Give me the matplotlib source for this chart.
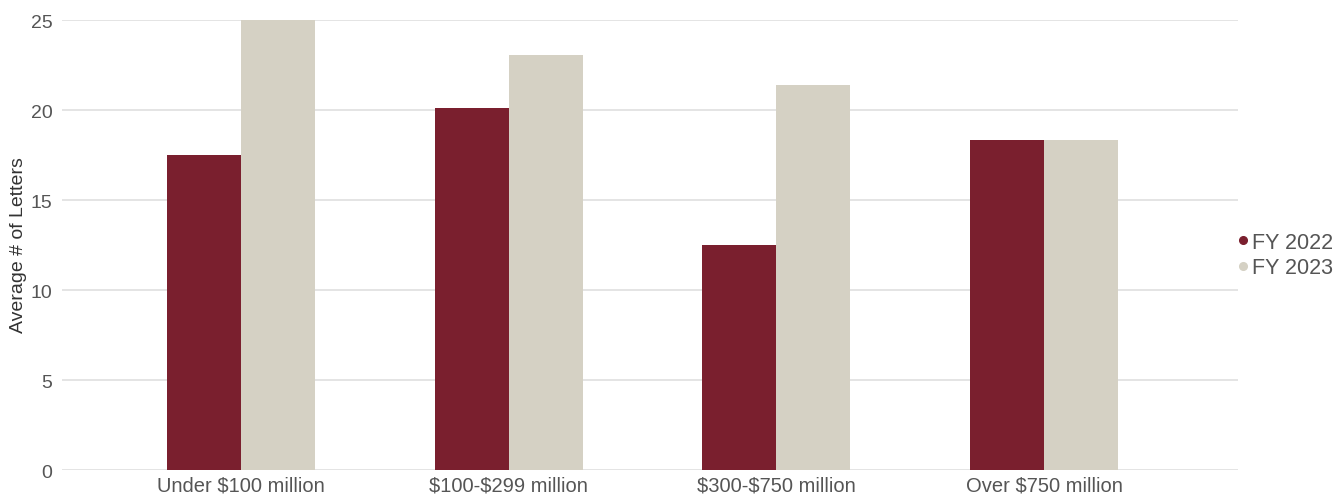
import matplotlib
matplotlib.use("Agg")
import matplotlib.pyplot as plt
from matplotlib.lines import Line2D
import numpy as np

categories = ["Under $100 million", "$100-$299 million", "$300-$750 million", "Over $750 million"]
fy2022 = [17.5, 20.1, 12.5, 18.35]
fy2023 = [25.0, 23.05, 21.4, 18.35]
series_names = ["FY 2022", "FY 2023"]
y_ticks = [0, 5, 10, 15, 20, 25]

RED = "#7a1f2e"
BEIGE = "#d5d1c4"
TEXT = "#555555"
GRID = "#e2e2e2"

plt.rcParams["font.family"] = ["Liberation Sans", "DejaVu Sans"]
plt.rcParams["text.parse_math"] = False

W, H = 1343, 502
fig = plt.figure(figsize=(W / 100, H / 100), dpi=100)
ax = fig.add_axes([62 / W, 1 - 471 / H, (1238 - 62) / W, (471 - 21) / H])

x = np.arange(len(categories))
bw = 0.2765
ax.bar(x - bw / 2, fy2022, width=bw, color=RED, zorder=3)
ax.bar(x + bw / 2, fy2023, width=bw, color=BEIGE, zorder=3)

ax.set_xlim(-0.669, 3.725)
ax.set_ylim(0, 25)
ax.set_yticks(y_ticks)
ax.set_xticks(x)
ax.set_xticklabels(categories)
ax.yaxis.grid(True, color=GRID, linewidth=1.3, zorder=0)
ax.xaxis.grid(False)
for s in ax.spines.values():
    s.set_visible(False)
ax.tick_params(axis="both", length=0, colors=TEXT)
ax.tick_params(axis="x", pad=4, labelsize=14.5)
ax.tick_params(axis="y", pad=7, labelsize=14)

ax.set_ylabel("Average # of Letters", fontsize=14, color="#333333")
ax.yaxis.set_label_coords(-35 / (1238 - 62), 0.5 + 1 / 450)

handles = [
    Line2D([], [], marker="o", linestyle="none", markersize=5.5, color=RED),
    Line2D([], [], marker="o", linestyle="none", markersize=5.5, color=BEIGE),
]
fig.legend(handles, series_names, loc="center left",
           bbox_to_anchor=(1226 / W, 1 - 256 / H), frameon=False,
           fontsize=15.5, labelcolor=TEXT, handletextpad=0.0,
           handlelength=0.8, labelspacing=0.2, borderaxespad=0)

fig.savefig("out.png", dpi=100, facecolor="white")
